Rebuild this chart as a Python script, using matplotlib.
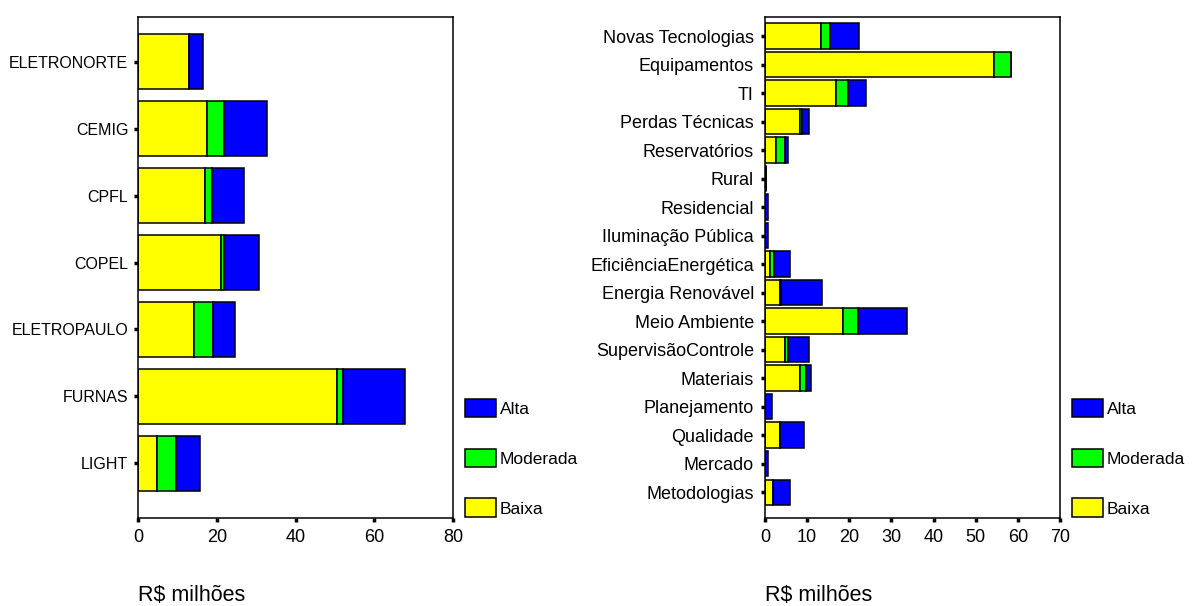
import numpy as np
import matplotlib
matplotlib.use("Agg")
import matplotlib.pyplot as plt
from matplotlib.patches import Patch

plt.rcParams["font.family"] = ["Liberation Sans", "DejaVu Sans"]
plt.rcParams["font.size"] = 12

# Empresas (de cima para baixo)
empresas = ["ELETRONORTE", "CEMIG", "CPFL", "COPEL", "ELETROPAULO", "FURNAS", "LIGHT"]
emp_baixa = [13.0, 17.4, 16.9, 21.0, 14.1, 50.6, 4.8]
emp_moderada = [0.0, 4.5, 2.0, 0.9, 4.9, 1.5, 4.9]
emp_alta = [3.6, 10.9, 7.9, 8.8, 5.7, 15.8, 6.0]

# Temas (de cima para baixo)
temas = ["Novas Tecnologias", "Equipamentos", "TI", "Perdas Técnicas", "Reservatórios",
         "Rural", "Residencial", "Iluminação Pública", "EficiênciaEnergética",
         "Energia Renovável", "Meio Ambiente", "SupervisãoControle", "Materiais",
         "Planejamento", "Qualidade", "Mercado", "Metodologias"]
tem_baixa = [13.2, 54.4, 16.9, 8.4, 2.7, 0.3, 0.0, 0.0, 1.1,
             3.6, 18.4, 4.8, 8.4, 0.0, 3.6, 0.0, 1.9]
tem_moderada = [2.3, 4.0, 2.7, 0.4, 2.0, 0.0, 0.0, 0.0, 1.1,
                0.3, 3.6, 0.6, 1.4, 0.0, 0.0, 0.0, 0.0]
tem_alta = [6.8, 0.0, 4.4, 1.6, 0.8, 0.0, 0.8, 0.8, 3.8,
            9.7, 11.6, 5.0, 1.1, 1.6, 5.7, 0.8, 4.1]

AMARELO = "#FFFF00"
VERDE = "#00FF00"
AZUL = "#0000FF"


def barras(ax, nomes, baixa, moderada, alta, altura, xmax, passo, top_pad, bot_pad, label_size, ypad):
    n = len(nomes)
    y = np.arange(n)[::-1]
    baixa = np.array(baixa)
    moderada = np.array(moderada)
    alta = np.array(alta)
    kw = dict(height=altura, edgecolor="black", linewidth=1.1)
    ax.barh(y, baixa, color=AMARELO, **kw)
    ax.barh(y, moderada, left=baixa, color=VERDE, **kw)
    ax.barh(y, alta, left=baixa + moderada, color=AZUL, **kw)
    ax.set_yticks(y)
    ax.set_yticklabels(nomes, fontsize=label_size)
    ax.set_ylim(-bot_pad, n - 1 + top_pad)
    ax.set_xlim(0, xmax)
    ax.set_xticks(np.arange(0, xmax + 1, passo))
    ax.tick_params(axis="both", length=3, width=2.5)
    ax.tick_params(axis="y", pad=ypad)
    ax.tick_params(axis="x", pad=5, labelsize=13)
    for s in ax.spines.values():
        s.set_linewidth(1.1)
    ax.set_xlabel("R$ milhões", fontsize=15.5, loc="left", labelpad=28)


fig = plt.figure(figsize=(12, 6.06), dpi=100)
ax1 = fig.add_axes([0.115, 0.145, 0.2625, 0.827])
ax2 = fig.add_axes([0.6375, 0.145, 0.2458, 0.827])

barras(ax1, empresas, emp_baixa, emp_moderada, emp_alta, 0.82, 80, 20, 0.67, 0.82, 11.5, 4)
barras(ax2, temas, tem_baixa, tem_moderada, tem_alta, 0.89, 70, 10, 0.67, 0.91, 13, 5)

handles = [Patch(facecolor=AZUL, edgecolor="black", linewidth=1.1, label="Alta"),
           Patch(facecolor=VERDE, edgecolor="black", linewidth=1.1, label="Moderada"),
           Patch(facecolor=AMARELO, edgecolor="black", linewidth=1.1, label="Baixa")]
for x0 in (465 / 1200, 1072 / 1200):
    fig.legend(handles=handles, loc="lower left", bbox_to_anchor=(x0, 1 - 517 / 606),
               frameon=False, fontsize=12.5, handlelength=1.8, handleheight=1.27,
               labelspacing=1.8, handletextpad=0.2, borderpad=0, borderaxespad=0)

fig.savefig("out.png", dpi=100)
